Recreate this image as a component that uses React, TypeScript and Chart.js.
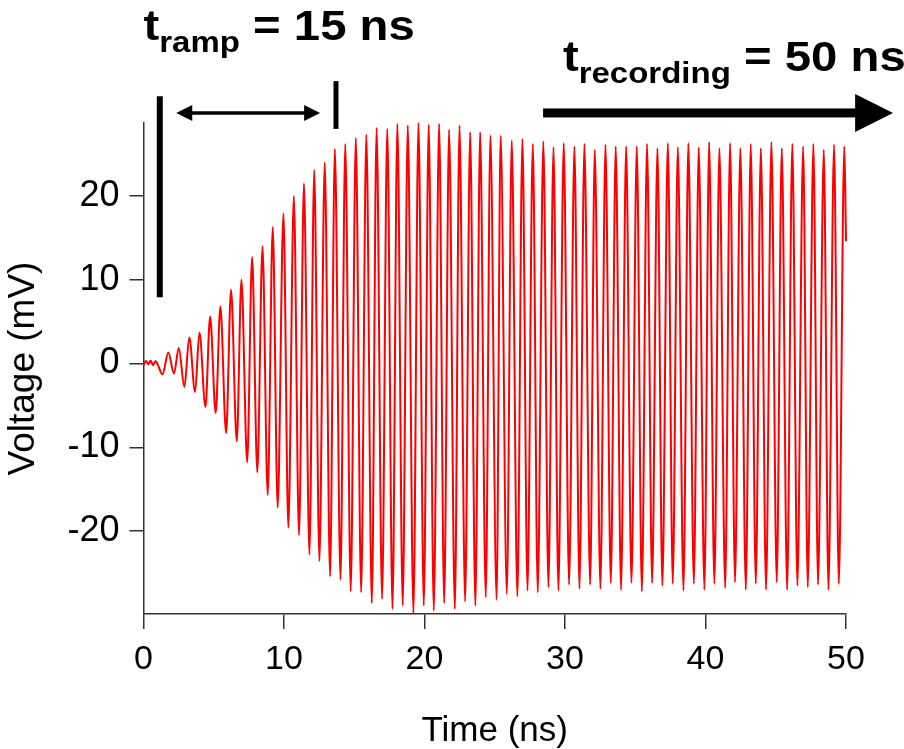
import React, { useEffect, useRef } from "react";
import { Chart, registerables } from "chart.js";

Chart.register(...registerables);

const timeNs = [
  0, 0.18, 0.35, 0.5, 0.68, 0.85, 1.0,
  1.35, 1.77, 2.17, 2.51, 2.91, 3.26, 3.67, 3.98, 4.41, 4.74, 5.14, 5.47, 5.88, 6.23,
  6.64, 6.97, 7.38, 7.73, 8.1, 8.47, 8.84, 9.2, 9.55, 9.96, 10.31, 10.7, 11.07, 11.42,
  11.81, 12.15, 12.52, 12.9, 13.28, 13.62, 14.02, 14.36, 14.75, 15.11, 15.49, 15.86,
  16.25, 16.59, 16.98, 17.35, 17.72, 18.07, 18.45, 18.81, 19.21, 19.57, 19.95, 20.3,
  20.66, 21.04, 21.4, 21.75, 22.16, 22.49, 22.89, 23.25, 23.62, 23.96, 24.36, 24.69,
  25.13, 25.42, 25.86, 26.21, 26.61, 26.97, 27.33, 27.71, 28.06, 28.46, 28.82, 29.18,
  29.53, 29.91, 30.29, 30.67, 31.03, 31.38, 31.79, 32.12, 32.52, 32.88, 33.26, 33.61,
  33.99, 34.35, 34.73, 35.11, 35.47, 35.84, 36.2, 36.58, 36.93, 37.32, 37.67, 38.03,
  38.43, 38.78, 39.17, 39.52, 39.92, 40.26, 40.63, 40.99, 41.4, 41.75, 42.1, 42.48,
  42.87, 43.22, 43.58, 43.94, 44.31, 44.69, 45.07, 45.43, 45.81, 46.18, 46.54, 46.95,
  47.28, 47.68, 48.01, 48.42, 48.75, 49.15, 49.49, 49.88, 50.0,
];
const voltageMv = [
  -0.2, 0.3, -0.1, 0.35, -0.2, 0.3, -0.1,
  -1.3, 1.3, -1.2, 1.85, -2.8, 3.1, -3.4, 3.7, -5.2, 5.6, -5.9, 6.8, -8.3, 8.8,
  -9.3, 10.0, -11.8, 12.7, -13.0, 14.0, -15.7, 16.3, -17.2, 17.9, -19.6, 20.0, -20.5, 21.5,
  -22.8, 23.1, -23.6, 24.0, -25.4, 25.6, -25.8, 26.2, -27.2, 26.9, -27.3, 27.3,
  -28.6, 28.1, -28.1, 28.0, -29.3, 28.6, -28.9, 28.4, -29.8, 28.7, -28.9, 28.5,
  -29.5, 28.6, -28.6, 27.9, -29.3, 28.4, -28.4, 27.6, -28.9, 27.6, -27.9, 27.2,
  -28.2, 27.2, -27.5, 26.6, -27.8, 26.8, -27.1, 26.2, -27.3, 26.5, -26.7, 25.8,
  -27.1, 26.3, -26.4, 25.9, -26.9, 26.2, -26.4, 25.5, -26.9, 26.1, -26.2, 25.9,
  -27.0, 25.9, -26.2, 25.9, -27.2, 26.2, -26.2, 25.7, -26.5, 26.3, -26.3, 25.8,
  -27.1, 26.3, -26.3, 25.8, -27.0, 26.4, -26.3, 25.7, -26.8, 26.3, -26.1, 25.7,
  -27.0, 26.2, -26.3, 25.7, -27.0, 26.4, -26.1, 25.7, -27.0, 26.2, -26.5, 25.9,
  -26.7, 26.2, -26.4, 25.5, -27.0, 26.1, -26.3, 25.9, 14.6,
];

const xTicks = [0, 10, 20, 30, 40, 50];
const yTicks = [-20, -10, 0, 10, 20];
const xRange = [0, 50];
const yRange = [-29.9, 28.7];

// annotation geometry in data units (time ns, voltage mV)
const rampStartBar = { t: 1.16, from: 7.9, to: 31.9 };
const rampEndBar = { t: 13.7, from: 28.0, to: 33.7 };
const rampArrow = { from: 2.33, to: 12.57, v: 29.9 };
const recordArrow = { from: 28.44, headBase: 50.65, tip: 53.35, v: 29.9 };
const rampLabel = { t: 0.0, v: 38.6, main: "t", sub: "ramp", rest: " = 15 ns" };
const recordLabel = { t: 29.85, v: 34.9, main: "t", sub: "recording", rest: " = 50 ns" };

const FONT = '"Liberation Sans", Arial, sans-serif';
const AXIS_COLOR = "#333333";

const annotationPlugin = {
  id: "annotations",
  afterDraw(chart: any) {
    const ctx = chart.ctx as CanvasRenderingContext2D;
    const xs = chart.scales.x;
    const ys = chart.scales.y;
    const px = (t: number) => xs.getPixelForValue(t);
    const py = (v: number) => ys.getPixelForValue(v);
    ctx.save();
    ctx.fillStyle = "#000";
    ctx.strokeStyle = "#000";

    // vertical bars
    ctx.lineCap = "butt";
    ctx.lineWidth = 6;
    ctx.beginPath();
    ctx.moveTo(px(rampStartBar.t), py(rampStartBar.to));
    ctx.lineTo(px(rampStartBar.t), py(rampStartBar.from));
    ctx.stroke();
    ctx.lineWidth = 5;
    ctx.beginPath();
    ctx.moveTo(px(rampEndBar.t), py(rampEndBar.to));
    ctx.lineTo(px(rampEndBar.t), py(rampEndBar.from));
    ctx.stroke();

    // double-headed arrow
    const ax0 = px(rampArrow.from);
    const ax1 = px(rampArrow.to);
    const ay = py(rampArrow.v);
    const hl = 16;
    const hh = 8;
    ctx.lineWidth = 3.5;
    ctx.beginPath();
    ctx.moveTo(ax0 + hl - 2, ay);
    ctx.lineTo(ax1 - hl + 2, ay);
    ctx.stroke();
    ctx.beginPath();
    ctx.moveTo(ax0, ay);
    ctx.lineTo(ax0 + hl, ay - hh);
    ctx.lineTo(ax0 + hl, ay + hh);
    ctx.closePath();
    ctx.fill();
    ctx.beginPath();
    ctx.moveTo(ax1, ay);
    ctx.lineTo(ax1 - hl, ay - hh);
    ctx.lineTo(ax1 - hl, ay + hh);
    ctx.closePath();
    ctx.fill();

    // big arrow
    const bx0 = px(recordArrow.from);
    const bxb = px(recordArrow.headBase);
    const bxt = px(recordArrow.tip);
    const by = py(recordArrow.v);
    ctx.fillRect(bx0, by - 4.5, bxb - bx0 + 1, 9);
    ctx.beginPath();
    ctx.moveTo(bxt, by);
    ctx.lineTo(bxb, by - 19);
    ctx.lineTo(bxb, by + 19);
    ctx.closePath();
    ctx.fill();

    // labels
    const drawLabel = (lab: any) => {
      const x0 = px(lab.t);
      const y0 = py(lab.v);
      ctx.save();
      ctx.translate(x0, y0);
      ctx.scale(1.1, 1);
      ctx.textBaseline = "alphabetic";
      ctx.textAlign = "left";
      ctx.font = `bold 43px ${FONT}`;
      ctx.fillText(lab.main, 0, 0);
      let x = ctx.measureText(lab.main).width;
      ctx.font = `bold 30px ${FONT}`;
      ctx.fillText(lab.sub, x, 12);
      x += ctx.measureText(lab.sub).width;
      ctx.font = `bold 43px ${FONT}`;
      ctx.fillText(lab.rest, x, 0);
      ctx.restore();
    };
    drawLabel(rampLabel);
    drawLabel(recordLabel);
    ctx.restore();
  },
};

export default function App() {
  const canvasRef = useRef<HTMLCanvasElement | null>(null);

  useEffect(() => {
    const canvas = canvasRef.current;
    if (!canvas) return;
    const points = timeNs.map((t, i) => ({ x: t, y: voltageMv[i] }));
    const chart = new Chart(canvas, {
      type: "line",
      data: {
        datasets: [
          {
            data: points,
            borderColor: "#ff0000",
            borderWidth: 2,
            pointRadius: 0,
            fill: false,
            cubicInterpolationMode: "monotone",
            clip: false as any,
          },
        ],
      },
      options: {
        responsive: false,
        devicePixelRatio: 1,
        animation: false,
        layout: { padding: { top: 123, right: 58, bottom: 0, left: 5 } },
        plugins: { legend: { display: false }, tooltip: { enabled: false } },
        scales: {
          x: {
            type: "linear",
            min: xRange[0],
            max: xRange[1],
            afterBuildTicks: (axis: any) => {
              axis.ticks = xTicks.map((v) => ({ value: v }));
            },
            afterFit: (scale: any) => {
              scale.height = 135;
            },
            grid: {
              drawOnChartArea: false,
              drawTicks: true,
              tickLength: 15,
              color: AXIS_COLOR,
              lineWidth: 1.5,
            },
            border: { display: true, color: AXIS_COLOR, width: 1.5 },
            ticks: {
              color: "#000",
              font: { family: FONT, size: 34 },
              padding: 10,
              maxRotation: 0,
              autoSkip: false,
            },
            title: {
              display: true,
              text: "Time (ns)",
              color: "#000",
              font: { family: FONT, size: 35, lineHeight: 1.0 },
              padding: 0,
            },
          },
          y: {
            type: "linear",
            min: yRange[0],
            max: yRange[1],
            afterBuildTicks: (axis: any) => {
              axis.ticks = yTicks.map((v) => ({ value: v }));
            },
            afterFit: (scale: any) => {
              scale.width = 138.5;
            },
            grid: {
              drawOnChartArea: false,
              drawTicks: true,
              tickLength: 14,
              color: AXIS_COLOR,
              lineWidth: 1.5,
            },
            border: { display: true, color: AXIS_COLOR, width: 1.5 },
            ticks: {
              color: "#000",
              font: { family: FONT, size: 36 },
              padding: 10,
              autoSkip: false,
            },
            title: {
              display: true,
              text: "Voltage (mV)",
              color: "#000",
              font: { family: FONT, size: 37, lineHeight: 1.0 },
              padding: 0,
            },
          },
        },
      },
      plugins: [annotationPlugin],
    });
    return () => chart.destroy();
  }, []);

  return (
    <div
      style={{
        position: "fixed",
        left: 0,
        top: 0,
        width: 904,
        height: 749,
        background: "#fff",
      }}
    >
      <canvas ref={canvasRef} width={904} height={749} style={{ width: 904, height: 749, display: "block" }} />
    </div>
  );
}
